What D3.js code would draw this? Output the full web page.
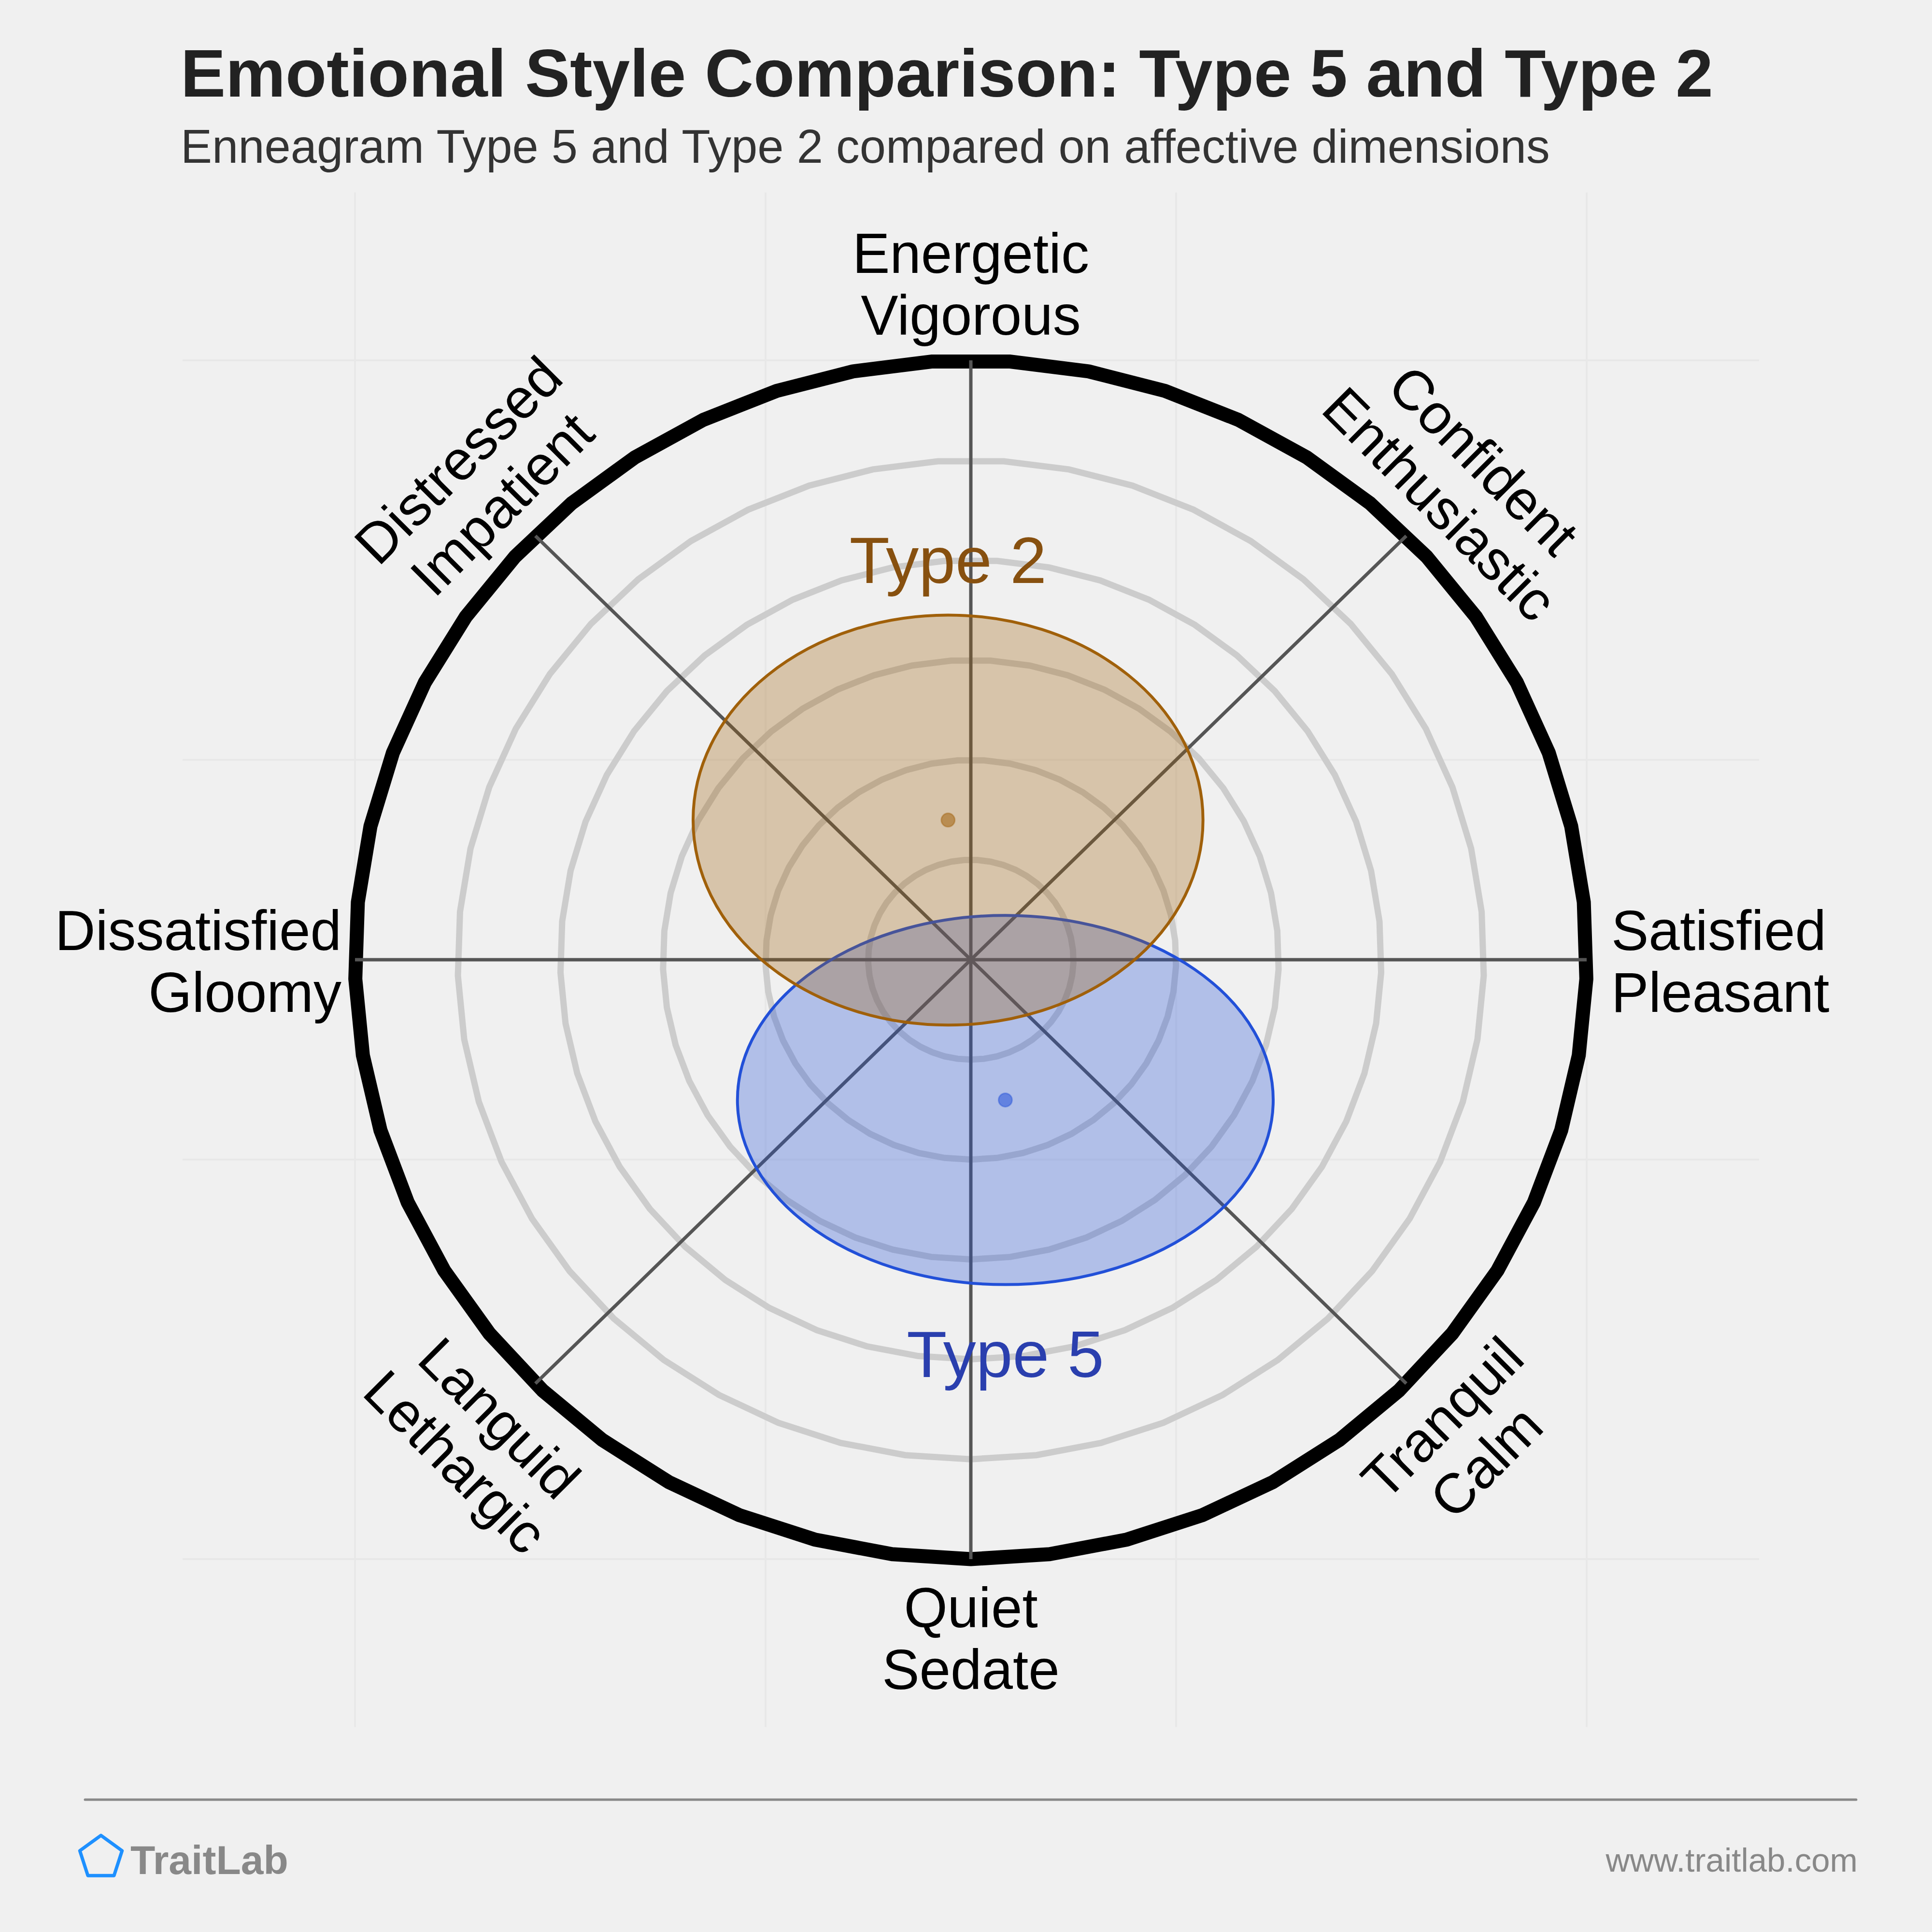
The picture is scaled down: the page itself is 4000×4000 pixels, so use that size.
<!DOCTYPE html>
<html>
<head>
<meta charset="utf-8">
<script src="https://cdn.jsdelivr.net/npm/d3@7"></script>
<style>
  html, body { margin: 0; padding: 0; background: #f0f0f0; }
  svg { display: block; font-family: "Liberation Sans", Arial, sans-serif; }
</style>
</head>
<body>
<div id="chart"></div>
<script>
// axis labels, counter-clockwise from the right
const axisAngles = [0, 45, 90, 135, 180, 225, 270, 315];
const axisLabels = [
  ["Satisfied", "Pleasant"],
  ["Confident", "Enthusiastic"],
  ["Energetic", "Vigorous"],
  ["Distressed", "Impatient"],
  ["Dissatisfied", "Gloomy"],
  ["Languid", "Lethargic"],
  ["Quiet", "Sedate"],
  ["Tranquil", "Calm"]
];

// rings and background grid (data units, outer ring = 1)
const ringLevels = [1 / 6, 2 / 6, 3 / 6, 4 / 6, 5 / 6];
const gridTicks = [-1, -1 / 3, 1 / 3, 1];

// the two types: centre (pleasant, energetic) and spread
const typeNames = ["Type 5", "Type 2"];
const typeCenterX = [0.056, -0.037];
const typeCenterY = [-0.234, 0.233];
const typeSpreadX = [0.435, 0.414];
const typeSpreadY = [0.308, 0.342];

const typeStroke = ["#2250d8", "#a0600a"];
const typeText = ["#2a3fae", "#87500f"];

const W = 4000, H = 4000;
const cx = 2010, cy = 1987, Rx = 1275, Ry = 1241;

const svg = d3.select("#chart").append("svg")
  .attr("width", W).attr("height", H)
  .attr("viewBox", `0 0 ${W} ${H}`);

svg.append("rect").attr("width", W).attr("height", H).attr("fill", "#f0f0f0");

const x = d3.scaleLinear().domain([-1, 1]).range([cx - Rx, cx + Rx]);
const y = d3.scaleLinear().domain([-1, 1]).range([cy + Ry, cy - Ry]);

// faint plot grid
const gridG = svg.append("g");
const ext = 1.28;
gridTicks.forEach(t => {
  gridG.append("line")
    .attr("x1", x(t)).attr("x2", x(t))
    .attr("y1", y(ext)).attr("y2", y(-ext))
    .attr("stroke", "#e8e8e8").attr("stroke-width", 4);
  gridG.append("line")
    .attr("x1", x(-ext)).attr("x2", x(ext))
    .attr("y1", y(t)).attr("y2", y(t))
    .attr("stroke", "#e8e8e8").attr("stroke-width", 4);
});

// polygonal rings (49 sides, vertex at the bottom)
const N = 49;
function ringPoints(r) {
  return d3.range(N).map(k => {
    const a = -Math.PI / 2 + k * 2 * Math.PI / N;
    return [x(r * Math.cos(a)), y(r * Math.sin(a))];
  });
}
const ringLine = d3.line().curve(d3.curveLinearClosed);

svg.append("g").selectAll("path")
  .data(ringLevels)
  .join("path")
  .attr("d", d => ringLine(ringPoints(d)))
  .attr("fill", "none")
  .attr("stroke", "#cccccc")
  .attr("stroke-width", 13);

svg.append("path")
  .attr("d", ringLine(ringPoints(1)))
  .attr("fill", "none")
  .attr("stroke", "#000")
  .attr("stroke-width", 29)
  .attr("stroke-linejoin", "round");

// spokes
const rad = a => a * Math.PI / 180;
svg.append("g").selectAll("line")
  .data(axisAngles.slice(0, 4))
  .join("line")
  .attr("x1", a => x(Math.cos(rad(a))))
  .attr("y1", a => y(Math.sin(rad(a))))
  .attr("x2", a => x(-Math.cos(rad(a))))
  .attr("y2", a => y(-Math.sin(rad(a))))
  .attr("stroke", "#555")
  .attr("stroke-width", 7);

// type ellipses
const types = typeNames.map((name, i) => ({
  name, cxv: typeCenterX[i], cyv: typeCenterY[i],
  sx: typeSpreadX[i], sy: typeSpreadY[i],
  stroke: typeStroke[i], text: typeText[i]
}));

const typeG = svg.append("g");
typeG.selectAll("ellipse")
  .data(types)
  .join("ellipse")
  .attr("cx", d => x(d.cxv))
  .attr("cy", d => y(d.cyv))
  .attr("rx", d => x(d.cxv + d.sx) - x(d.cxv))
  .attr("ry", d => y(d.cyv) - y(d.cyv + d.sy))
  .attr("fill", d => d.stroke)
  .attr("fill-opacity", 0.3)
  .attr("stroke", d => d.stroke)
  .attr("stroke-width", 6);

typeG.selectAll("circle")
  .data(types)
  .join("circle")
  .attr("cx", d => x(d.cxv))
  .attr("cy", d => y(d.cyv))
  .attr("r", 14)
  .attr("fill", d => d.stroke)
  .attr("fill-opacity", 0.55)
  .attr("stroke", d => d.stroke)
  .attr("stroke-opacity", 0.4)
  .attr("stroke-width", 3);

// type names: above the ellipse if it sits high, below if it sits low
typeG.selectAll("text")
  .data(types)
  .join("text")
  .attr("x", d => x(d.cxv))
  .attr("y", d => d.cyv > 0
    ? y(d.cyv + d.sy) - 66
    : y(d.cyv - d.sy) + 191)
  .attr("text-anchor", "middle")
  .attr("font-size", 136)
  .attr("fill", d => d.text)
  .text(d => d.name);

// axis labels
const labelG = svg.append("g");
const fs = 116, lh = 128;
axisAngles.forEach((a, i) => {
  const c = Math.cos(rad(a)), s = Math.sin(rad(a));
  let px, py, anchor = "middle", rot = 0;
  if (a === 0 || a === 180) {
    px = x((a === 0 ? 1.04 : 1.022) * c); py = y(0);
    anchor = a === 0 ? "start" : "end";
  } else {
    px = x(1.13 * c); py = y(1.13 * s);
    if (a === 45 || a === 225) rot = 45;
    if (a === 135 || a === 315) rot = -45;
  }
  const t = labelG.append("text")
    .attr("transform", `translate(${px},${py}) rotate(${rot})`)
    .attr("text-anchor", anchor)
    .attr("font-size", fs)
    .attr("fill", "#000");
  axisLabels[i].forEach((line, j) => {
    t.append("tspan").attr("x", 0).attr("y", -20 + j * lh).text(line);
  });
});

// title
svg.append("text")
  .attr("x", 374).attr("y", 200)
  .attr("font-size", 139.5).attr("font-weight", "bold")
  .attr("fill", "#222")
  .text("Emotional Style Comparison: Type 5 and Type 2");
svg.append("text")
  .attr("x", 374).attr("y", 337)
  .attr("font-size", 97.5)
  .attr("fill", "#333")
  .text("Enneagram Type 5 and Type 2 compared on affective dimensions");

// footer
svg.append("line")
  .attr("x1", 176).attr("x2", 3843)
  .attr("y1", 3726).attr("y2", 3726)
  .attr("stroke", "#888").attr("stroke-width", 5)
  .attr("stroke-linecap", "round");

const pent = d3.range(5).map(k => {
  const a = -Math.PI / 2 + k * 2 * Math.PI / 5;
  return [209 + 46 * Math.cos(a), 3846 + 46 * Math.sin(a)];
});
svg.append("path")
  .attr("d", ringLine(pent))
  .attr("fill", "none")
  .attr("stroke", "#1e90ff")
  .attr("stroke-width", 7)
  .attr("stroke-linejoin", "round");

svg.append("text")
  .attr("x", 270).attr("y", 3880)
  .attr("font-size", 84).attr("font-weight", "bold")
  .attr("fill", "#888")
  .text("TraitLab");

svg.append("text")
  .attr("x", 3846).attr("y", 3875)
  .attr("text-anchor", "end")
  .attr("font-size", 69)
  .attr("fill", "#888")
  .text("www.traitlab.com");
</script>
</body>
</html>
